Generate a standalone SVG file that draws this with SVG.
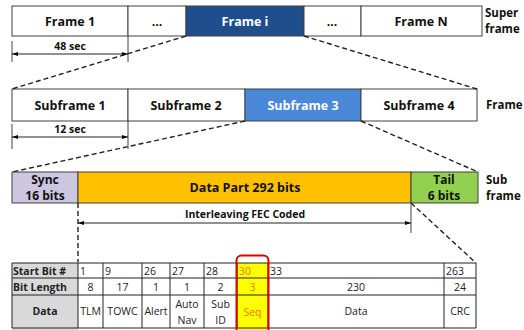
<svg xmlns="http://www.w3.org/2000/svg" width="524" height="330" viewBox="0 0 524 330">
<defs>
<marker id="ah" viewBox="0 0 10 10" refX="10" refY="5" markerWidth="6" markerHeight="6" orient="auto-start-reverse" markerUnits="userSpaceOnUse"><path d="M0,1.5 L10,5 L0,8.5 Z" fill="#000"/></marker>
<style>
.bx{stroke:#404040;stroke-width:1}
.t{font-family:"Open Sans","Noto Sans",sans-serif;font-weight:bold;font-size:12.5px;fill:#111;text-anchor:middle}
.t2{font-size:12px}
.w{fill:#fff}
.lb{font-family:"Open Sans","Noto Sans",sans-serif;font-weight:bold;font-size:11.5px;fill:#111}
.s{font-family:"Open Sans","Noto Sans",sans-serif;font-weight:bold;font-size:10.5px;fill:#111;text-anchor:middle}
.c{font-family:"Open Sans","Noto Sans",sans-serif;font-size:10.5px;fill:#222}
.m{text-anchor:middle}
.hb{font-weight:bold}
.o{fill:#e8780c}
.d{stroke:#222;stroke-width:1.4;stroke-dasharray:5,3;fill:none}
.ln{stroke:#222;stroke-width:1;fill:none}
.tk{stroke:#444;stroke-width:1}
</style>
</defs>
<g id="superframe">
<rect class="bx" x="12" y="6" width="116" height="30" fill="#fff"/>
<rect class="bx" x="128" y="6" width="58" height="30" fill="#fff"/>
<rect class="bx" x="186" y="6" width="118" height="30" fill="#1f4e8c"/>
<rect class="bx" x="304" y="6" width="57" height="30" fill="#fff"/>
<rect class="bx" x="361" y="6" width="121" height="30" fill="#fff"/>
<text class="t" x="70" y="26">Frame 1</text>
<text class="t" x="157" y="26">...</text>
<text class="t w" x="245" y="26">Frame i</text>
<text class="t" x="332" y="26">...</text>
<text class="t" x="421" y="26">Frame N</text>
<text class="lb" x="485" y="17">Super</text>
<text class="lb" x="485" y="33">frame</text>
</g>
<g id="frame">
<rect class="bx" x="12" y="89" width="116" height="32" fill="#fff"/>
<rect class="bx" x="128" y="89" width="117" height="32" fill="#fff"/>
<rect class="bx" x="245" y="89" width="116" height="32" fill="#4a88d8"/>
<rect class="bx" x="361" y="89" width="116" height="32" fill="#fff"/>
<text class="t" x="70" y="110">Subframe 1</text>
<text class="t" x="186" y="110">Subframe 2</text>
<text class="t w" x="303" y="110">Subframe 3</text>
<text class="t" x="419" y="110">Subframe 4</text>
<text class="lb" x="486" y="109">Frame</text>
</g>
<g id="subframe">
<rect class="bx" x="12" y="172" width="66" height="31" fill="#ccc6e0"/>
<rect class="bx" x="78" y="172" width="333" height="31" fill="#ffc000"/>
<rect class="bx" x="411" y="172" width="67" height="31" fill="#92d050"/>
<text class="t t2" x="45" y="184">Sync</text>
<text class="t t2" x="45" y="200">16 bits</text>
<text class="t" x="245" y="192">Data Part 292 bits</text>
<text class="t t2" x="444" y="184">Tail</text>
<text class="t t2" x="444" y="200">6 bits</text>
<text class="lb" x="486" y="184">Sub</text>
<text class="lb" x="486" y="200">frame</text>
</g>
<g id="table">
<rect x="12" y="263" width="66" height="67" fill="#d9d9d9"/>
<rect x="237" y="263" width="31" height="67" fill="#ffff00"/>
<g class="ln">
<line x1="12" y1="263" x2="476" y2="263"/>
<line x1="12" y1="278" x2="476" y2="278"/>
<line x1="12" y1="295" x2="476" y2="295"/>
<line x1="12" y1="328" x2="476" y2="328"/>
<line x1="12" y1="263" x2="12" y2="328"/>
<line x1="78" y1="263" x2="78" y2="328"/>
<line x1="103" y1="263" x2="103" y2="328"/>
<line x1="142" y1="263" x2="142" y2="328"/>
<line x1="170" y1="263" x2="170" y2="328"/>
<line x1="204" y1="263" x2="204" y2="328"/>
<line x1="237" y1="263" x2="237" y2="328"/>
<line x1="268" y1="263" x2="268" y2="328"/>
<line x1="444" y1="263" x2="444" y2="328"/>
<line x1="476" y1="263" x2="476" y2="328"/>
</g>
<text class="c hb" x="13" y="274.5">Start Bit #</text>
<text class="c hb" x="13" y="291">Bit Length</text>
<text class="c hb m" x="45" y="315">Data</text>
<text class="c" x="80" y="274.5">1</text>
<text class="c" x="105" y="274.5">9</text>
<text class="c" x="144" y="274.5">26</text>
<text class="c" x="172" y="274.5">27</text>
<text class="c" x="206" y="274.5">28</text>
<text class="c o" x="239" y="274.5">30</text>
<text class="c" x="270" y="274.5">33</text>
<text class="c" x="446" y="274.5">263</text>
<text class="c m" x="90.5" y="291">8</text>
<text class="c m" x="122.5" y="291">17</text>
<text class="c m" x="156" y="291">1</text>
<text class="c m" x="187" y="291">1</text>
<text class="c m" x="220.5" y="291">2</text>
<text class="c m o" x="252.5" y="291">3</text>
<text class="c m" x="356" y="291">230</text>
<text class="c m" x="460" y="291">24</text>
<text class="c m" x="90.5" y="315">TLM</text>
<text class="c m" x="122.5" y="315">TOWC</text>
<text class="c m" x="156" y="315">Alert</text>
<text class="c m" x="187" y="308">Auto</text>
<text class="c m" x="187" y="324">Nav</text>
<text class="c m" x="220.5" y="308">Sub</text>
<text class="c m" x="220.5" y="324">ID</text>
<text class="c m o" x="252.5" y="316">Seq</text>
<text class="c m" x="356" y="315">Data</text>
<text class="c m" x="460" y="315">CRC</text>
<rect x="236.5" y="255.5" width="32" height="80" rx="5" ry="5" fill="none" stroke="#e00000" stroke-width="2"/>
</g>
<g id="connectors">
<line class="d" x1="186" y1="36" x2="12" y2="89"/>
<line class="d" x1="304" y1="36" x2="477" y2="89"/>
<line class="d" x1="245" y1="121" x2="12" y2="172"/>
<line class="d" x1="361" y1="121" x2="478" y2="172"/>
<line class="d" x1="78" y1="203" x2="78" y2="262"/>
<line class="d" x1="411" y1="203" x2="476" y2="263"/>
<line class="tk" x1="12" y1="41" x2="12" y2="62"/>
<line class="tk" x1="128" y1="36" x2="128" y2="62"/>
<line class="ln" x1="12" y1="54" x2="128" y2="54" marker-start="url(#ah)" marker-end="url(#ah)"/>
<text class="s" x="70" y="50">48 sec</text>
<line class="tk" x1="12" y1="124" x2="12" y2="149"/>
<line class="tk" x1="128" y1="121" x2="128" y2="149"/>
<line class="ln" x1="12" y1="137" x2="128" y2="137" marker-start="url(#ah)" marker-end="url(#ah)"/>
<text class="s" x="70" y="133">12 sec</text>
<line class="tk" x1="411" y1="203" x2="411" y2="233"/>
<line class="ln" x1="78" y1="223" x2="411" y2="223" marker-start="url(#ah)" marker-end="url(#ah)"/>
<text class="s" x="245" y="218">Interleaving FEC Coded</text>
</g>
</svg>
